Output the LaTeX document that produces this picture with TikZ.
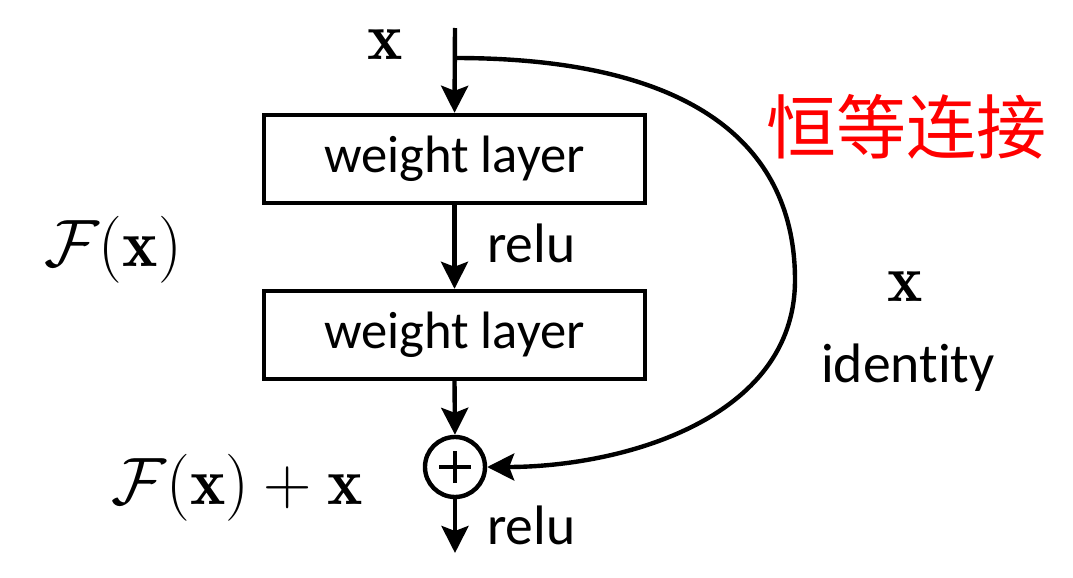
\RequirePackage{fix-cm}
\documentclass[tikz,border=0pt]{standalone}
\usepackage{fontspec}
\newfontfamily\calibri[Ligatures={NoCommon}]{Carlito}
\newfontfamily\cjk{Noto Sans CJK SC}
\usetikzlibrary{arrows.meta}
\begin{document}
\begin{tikzpicture}[x=0.5pt,y=-0.5pt, line width=2.2pt,
  layerbox/.style={draw, minimum width=190.5pt, minimum height=44pt, inner sep=0pt,
    font=\calibri\fontsize{26.3}{30}\selectfont},
  arr/.style={-{Stealth[length=13.5pt,width=13.5pt,inset=2.5pt]}},
  lbl/.style={font=\calibri\fontsize{27.8}{30}\selectfont, inner sep=0pt},
  mathlbl/.style={font=\fontsize{33.5}{38}\selectfont, inner sep=0pt}]
\useasboundingbox (0,0) rectangle (1073,578);
\node[layerbox] (w1) at (454.5,159) {weight layer};
\node[layerbox] (w2) at (454.5,335) {weight layer};
\node[circle, draw, minimum size=30pt, inner sep=0pt] (add) at (455,467) {};
\draw ([xshift=-8pt]add.center) -- ([xshift=8pt]add.center);
\draw ([yshift=-8pt]add.center) -- ([yshift=8pt]add.center);
\coordinate (in) at (455,28);
\coordinate (branch) at (455,58);
\coordinate (out) at (455,553);
\draw[arr] (in) -- (w1.north);
\draw[arr] (w1.south) -- (w2.north);
\draw[arr] (w2.south) -- (add.north);
\draw[arr] (add.south) -- (out);
\draw[arr] (branch) .. controls (700,58) and (795,150) .. (795,280)
  .. controls (795,420) and (620,467) .. (add.east);
\node[lbl, anchor=west] (relu1) at (485,243) {relu};
\node[lbl, anchor=west] (relu2) at (485,525) {relu};
\node[lbl] (ident) at (908,368) {identity};
\node[mathlbl] (xin) at (385,45) {$\mathbf{x}$};
\node[mathlbl] (xid) at (905,287) {$\mathbf{x}$};
\node[mathlbl] (fx) at (113,250) {$\mathcal{F}(\mathbf{x})$};
\node[mathlbl] (fxx) at (237,488) {$\mathcal{F}(\mathbf{x})+\mathbf{x}$};
\node[font=\cjk\fontsize{35}{40}\selectfont, text=red, inner sep=0pt] (cn) at (906,127) {恒等连接};
\end{tikzpicture}
\end{document}
